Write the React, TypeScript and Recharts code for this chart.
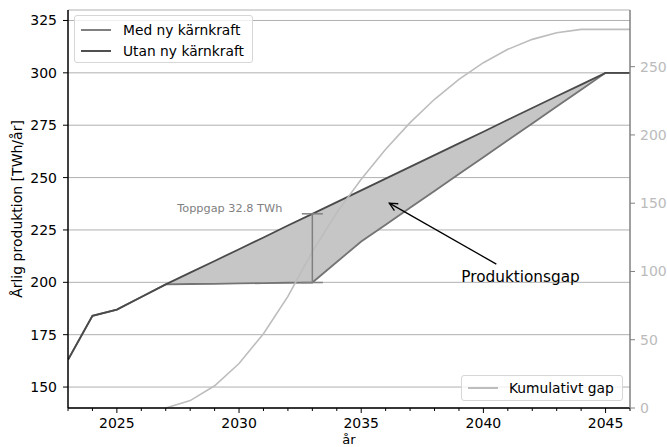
import {
  ComposedChart,
  Line,
  Area,
  XAxis,
  YAxis,
  CartesianGrid,
  ReferenceLine,
  ReferenceDot,
} from 'recharts'

const years = [
  2023, 2024, 2025, 2026, 2027, 2028, 2029, 2030, 2031, 2032, 2033, 2034,
  2035, 2036, 2037, 2038, 2039, 2040, 2041, 2042, 2043, 2044, 2045, 2046,
]
// TWh/år
const medKarnkraft = [
  163, 184, 187, 193, 199, 199.2, 199.3, 199.5, 199.6, 199.8, 199.9, 209.7,
  219.5, 227.5, 235.6, 243.6, 251.7, 259.7, 267.8, 275.8, 283.9, 291.9, 300, 300,
]
const utanKarnkraft = [
  163, 184, 187, 193, 199, 204.6, 210.2, 215.8, 221.4, 227.1, 232.7, 238.3,
  243.9, 249.5, 255.1, 260.7, 266.3, 271.9, 277.6, 283.2, 288.8, 294.4, 300, 300,
]
// TWh, right axis
const kumulativtGap = [
  null, null, null, null, 0, 5.4, 16.3, 32.6, 54.4, 81.7, 114.5, 143.1,
  167.5, 189.5, 209.0, 226.1, 240.7, 252.9, 262.7, 270.0, 274.9, 277.3, 277.3, 277.3,
]

const xTicks = [2025, 2030, 2035, 2040, 2045]
const leftTicks = [150, 175, 200, 225, 250, 275, 300, 325]
const rightTicks = [0, 50, 100, 150, 200, 250]

const gapFrom = 2027
const gapTo = 2045
const peakYear = 2033
const peakLow = 199.9
const peakHigh = 232.7
const peakLabel = 'Toppgap 32.8 TWh'
const gapLabel = 'Produktionsgap'
const arrowFrom = { x: 2040.53, y: 208.7 }
const arrowTo = { x: 2036.15, y: 237.8 }
const gapLabelPos = { x: 2041.52, y: 202.5 }

const rows = years.map((year, i) => ({
  year,
  med: medKarnkraft[i],
  utan: utanKarnkraft[i],
  cum: kumulativtGap[i],
  band: year >= gapFrom && year <= gapTo ? [medKarnkraft[i], utanKarnkraft[i]] : null,
}))

const FONT = '"DejaVu Sans", sans-serif'

const YearTick = (props: any) => {
  const { x, y, payload } = props
  const major = xTicks.includes(payload.value)
  return (
    <g>
      <line x1={x} x2={x} y1={y} y2={y + (major ? 5 : 3)} stroke="#000" strokeWidth={1} />
      {major && (
        <text x={x} y={y + 20} textAnchor="middle" fontSize={14} fill="#000">
          {payload.value}
        </text>
      )}
    </g>
  )
}

const LeftTick = (props: any) => {
  const { x, y, payload } = props
  return (
    <g>
      <line x1={x - 5} x2={x} y1={y} y2={y} stroke="#000" strokeWidth={1} />
      <text x={x - 11} y={y + 5} textAnchor="end" fontSize={14} fill="#000">
        {payload.value}
      </text>
    </g>
  )
}

const RightTick = (props: any) => {
  const { x, y, payload } = props
  return (
    <g>
      <line x1={x} x2={x + 5} y1={y} y2={y} stroke="#808080" strokeWidth={1} />
      <text x={x + 10} y={y + 5} textAnchor="start" fontSize={14} fill="#bbbbbb">
        {payload.value}
      </text>
    </g>
  )
}

const Arrow = (props: any) => {
  const { x1, y1, x2, y2 } = props
  const a = Math.atan2(y2 - y1, x2 - x1)
  const len = 9
  const spread = 0.45
  return (
    <g>
      <line x1={x1} y1={y1} x2={x2} y2={y2} stroke="#000" strokeWidth={1.3} />
      <polyline
        points={`${x2 - len * Math.cos(a - spread)},${y2 - len * Math.sin(a - spread)} ${x2},${y2} ${x2 - len * Math.cos(a + spread)},${y2 - len * Math.sin(a + spread)}`}
        fill="none"
        stroke="#000"
        strokeWidth={1.3}
      />
    </g>
  )
}

const legendBox: React.CSSProperties = {
  position: 'absolute',
  background: 'rgba(255,255,255,0.8)',
  border: '1px solid #d6d6d6',
  borderRadius: 3,
  boxSizing: 'border-box',
  fontSize: 13.8,
  color: '#000',
}

function LegendRow({ top, color, text, textLeft }: { top: number; color: string; text: string; textLeft: number }) {
  return (
    <>
      <div style={{ position: 'absolute', left: 6, width: 30, top: top - 1, height: 2, background: color }} />
      <div style={{ position: 'absolute', left: textLeft, top: top - 9, lineHeight: '18px', whiteSpace: 'nowrap' }}>{text}</div>
    </>
  )
}

export default function App() {
  return (
    <div style={{ position: 'absolute', left: 0, top: 0, width: 667, height: 447, fontFamily: FONT, background: '#fff' }}>
      <ComposedChart
        width={667}
        height={447}
        data={rows}
        margin={{ top: 10, right: 0, bottom: 0, left: 0 }}
        style={{ fontFamily: FONT }}
      >
        <CartesianGrid yAxisId="left" vertical={false} stroke="#b0b0b0" strokeWidth={1} />
        <XAxis
          dataKey="year"
          type="number"
          domain={[2023, 2046]}
          allowDataOverflow
          ticks={years}
          interval={0}
          height={39}
          tickSize={0}
          tickMargin={0}
          tickLine={false}
          tick={<YearTick />}
          axisLine={{ stroke: '#000', strokeWidth: 1.5 }}
          label={(p: any) => (
            <text x={p.viewBox.x + p.viewBox.width / 2} y={p.viewBox.y + 35.8} textAnchor="middle" fontSize={13} fill="#000">
              år
            </text>
          )}
        />
        <YAxis
          yAxisId="left"
          orientation="left"
          type="number"
          domain={[140, 330]}
          allowDataOverflow
          ticks={leftTicks}
          interval={0}
          width={68}
          tickSize={0}
          tickMargin={0}
          tickLine={false}
          tick={<LeftTick />}
          axisLine={{ stroke: '#000', strokeWidth: 1.5 }}
          label={(p: any) => (
            <text
              transform={`translate(${p.viewBox.x + 17}, ${p.viewBox.y + p.viewBox.height / 2}) rotate(-90)`}
              textAnchor="middle"
              dominantBaseline="central"
              fontSize={14}
              fill="#000"
            >
              Årlig produktion [TWh/år]
            </text>
          )}
        />
        <YAxis
          yAxisId="right"
          orientation="right"
          type="number"
          domain={[0, 291.5]}
          allowDataOverflow
          ticks={rightTicks}
          interval={0}
          width={37}
          tickSize={0}
          tickMargin={0}
          tickLine={false}
          tick={<RightTick />}
          axisLine={{ stroke: '#808080', strokeWidth: 1.5 }}
        />
        <Area
          yAxisId="left"
          dataKey="band"
          type="linear"
          stroke="none"
          fill="#c6c6c6"
          fillOpacity={1}
          dot={false}
          activeDot={false}
          isAnimationActive={false}
        />
        <Line
          yAxisId="left"
          dataKey="med"
          type="linear"
          stroke="#747474"
          strokeWidth={1.8}
          dot={false}
          activeDot={false}
          isAnimationActive={false}
        />
        <Line
          yAxisId="left"
          dataKey="utan"
          type="linear"
          stroke="#4a4a4a"
          strokeWidth={1.8}
          dot={false}
          activeDot={false}
          isAnimationActive={false}
        />
        <Line
          yAxisId="right"
          dataKey="cum"
          type="linear"
          stroke="#bdbdbd"
          strokeWidth={1.6}
          dot={false}
          activeDot={false}
          isAnimationActive={false}
        />
        <ReferenceLine
          yAxisId="left"
          segment={[{ x: peakYear, y: peakLow }, { x: peakYear, y: peakHigh }]}
          stroke="#808080"
          strokeWidth={1.5}
        />
        <ReferenceLine
          yAxisId="left"
          segment={[{ x: peakYear - 0.43, y: peakLow }, { x: peakYear + 0.43, y: peakLow }]}
          stroke="#808080"
          strokeWidth={1.5}
        />
        <ReferenceLine
          yAxisId="left"
          segment={[{ x: peakYear - 0.43, y: peakHigh }, { x: peakYear + 0.43, y: peakHigh }]}
          stroke="#808080"
          strokeWidth={1.5}
        />
        <ReferenceLine yAxisId="left" segment={[arrowFrom, arrowTo]} shape={<Arrow />} />
        <ReferenceDot
          yAxisId="left"
          x={peakYear}
          y={peakHigh}
          r={0}
          shape={(p: any) => (
            <text x={p.cx - 30} y={p.cy - 1.5} textAnchor="end" fontSize={11.3} fill="#808080">
              {peakLabel}
            </text>
          )}
        />
        <ReferenceDot
          yAxisId="left"
          x={gapLabelPos.x}
          y={gapLabelPos.y}
          r={0}
          shape={(p: any) => (
            <text x={p.cx} y={p.cy + 5} textAnchor="middle" fontSize={15.3} fill="#000">
              {gapLabel}
            </text>
          )}
        />
      </ComposedChart>

      <div style={{ ...legendBox, left: 74, top: 15, width: 179, height: 48 }}>
        <LegendRow top={13.5} color="#808080" text="Med ny kärnkraft" textLeft={48} />
        <LegendRow top={34.5} color="#505050" text="Utan ny kärnkraft" textLeft={48} />
      </div>
      <div style={{ ...legendBox, left: 461, top: 375, width: 162, height: 26 }}>
        <LegendRow top={12} color="#bdbdbd" text="Kumulativt gap" textLeft={47} />
      </div>
    </div>
  )
}
